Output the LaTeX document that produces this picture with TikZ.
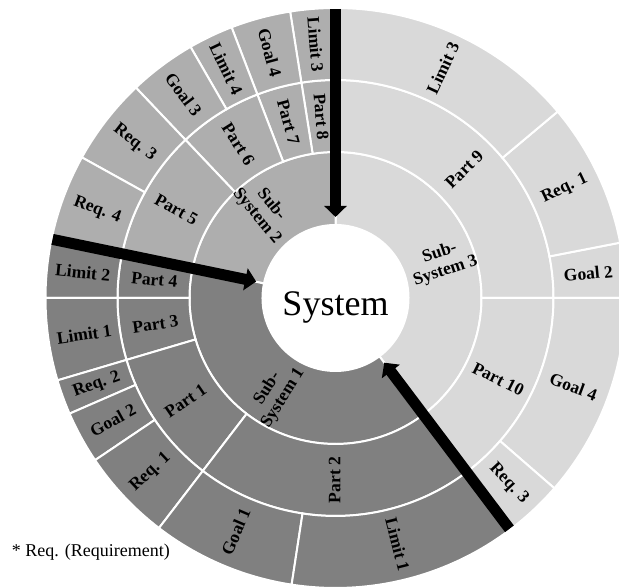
\documentclass[tikz,border=0pt]{standalone}
\usepackage{fontspec}
\setmainfont{Liberation Serif}
\usetikzlibrary{arrows.meta}

\definecolor{ssL}{HTML}{D9D9D9}
\definecolor{ssM}{HTML}{AEAEAE}
\definecolor{ssD}{HTML}{808080}

\tikzset{
  segline/.style={draw=white, line width=2pt},
  lbl/.style={font=\fontsize{17.5}{18.5}\selectfont\bfseries, align=center, inner sep=0pt},
  hub/.style={circle, fill=white, minimum size=146pt, inner sep=0pt, outer sep=0pt},
  hubtext/.style={font=\fontsize{36}{40}\selectfont, inner sep=0pt, anchor=base},
  note/.style={font=\fontsize{18}{20}\selectfont, inner sep=0pt, anchor=base west},
  flow/.style={line width=11pt, -{Triangle[width=22pt,length=11pt]}, shorten >=8pt}
}

% annular sector: colour, start angle, end angle, inner radius, outer radius
\newcommand\ringseg[5]{%
  \filldraw[segline, fill=#1] (#2:#4) arc[start angle=#2, end angle=#3, radius=#4]
    -- (#3:#5) arc[start angle=#3, end angle=#2, radius=#5] -- cycle;}
% sector label: name, angle, radius, rotation, text
\newcommand\seglabel[5]{\node[lbl, rotate=#4] (#1) at (#2:#3) {#5};}

\begin{document}
\begin{tikzpicture}
\useasboundingbox (0,0) rectangle (619pt,588pt);
\clip (0,0) rectangle (619pt,588pt);

\begin{scope}[shift={(335.5pt,290pt)}]
  % ring 1: sub-systems
  \ringseg{ssL}{-53}{90}{73pt}{146pt}
  \ringseg{ssM}{90}{168.5}{73pt}{146pt}
  \ringseg{ssD}{168.5}{307}{73pt}{146pt}

  % ring 2: parts
  \ringseg{ssL}{0}{90}{146pt}{218pt}
  \ringseg{ssL}{-53}{0}{146pt}{218pt}
  \ringseg{ssM}{90}{99}{146pt}{218pt}
  \ringseg{ssM}{99}{111}{146pt}{218pt}
  \ringseg{ssM}{111}{133.5}{146pt}{218pt}
  \ringseg{ssM}{133.5}{168.5}{146pt}{218pt}
  \ringseg{ssD}{168.5}{180}{146pt}{218pt}
  \ringseg{ssD}{180}{196.5}{146pt}{218pt}
  \ringseg{ssD}{196.5}{232.5}{146pt}{218pt}
  \ringseg{ssD}{232.5}{307}{146pt}{218pt}

  % ring 3: requirements, goals, limits
  \ringseg{ssL}{0}{11}{218pt}{290pt}
  \ringseg{ssL}{11}{40}{218pt}{290pt}
  \ringseg{ssL}{40}{90}{218pt}{290pt}
  \ringseg{ssL}{-41}{0}{218pt}{290pt}
  \ringseg{ssL}{-53}{-41}{218pt}{290pt}
  \ringseg{ssM}{90}{99}{218pt}{290pt}
  \ringseg{ssM}{99}{111}{218pt}{290pt}
  \ringseg{ssM}{111}{120}{218pt}{290pt}
  \ringseg{ssM}{120}{133.5}{218pt}{290pt}
  \ringseg{ssM}{133.5}{151}{218pt}{290pt}
  \ringseg{ssM}{151}{168.5}{218pt}{290pt}
  \ringseg{ssD}{168.5}{180}{218pt}{290pt}
  \ringseg{ssD}{180}{196.5}{218pt}{290pt}
  \ringseg{ssD}{196.5}{203.5}{218pt}{290pt}
  \ringseg{ssD}{203.5}{214}{218pt}{290pt}
  \ringseg{ssD}{214}{232.5}{218pt}{290pt}
  \ringseg{ssD}{232.5}{261.3}{218pt}{290pt}
  \ringseg{ssD}{261.3}{307}{218pt}{290pt}

  % labels, ring 1
  \seglabel{ss3}{18.5}{113pt}{18.5}{Sub-\\System 3}
  \seglabel{ss2}{129.25}{113pt}{-50.75}{Sub-\\System 2}
  \seglabel{ss1}{237.75}{113pt}{57.75}{Sub-\\System 1}

  % labels, ring 2
  \seglabel{p9}{45}{182pt}{45}{Part 9}
  \seglabel{p10}{-26.5}{182pt}{-26.5}{Part 10}
  \seglabel{p8}{94.5}{182pt}{-85.5}{Part 8}
  \seglabel{p7}{105}{182pt}{-75}{Part 7}
  \seglabel{p6}{122.25}{182pt}{-57.75}{Part 6}
  \seglabel{p5}{151}{182pt}{-29}{Part 5}
  \seglabel{p4}{174.25}{182pt}{-5.75}{Part 4}
  \seglabel{p3}{188.25}{182pt}{8.25}{Part 3}
  \seglabel{p1}{214.5}{182pt}{34.5}{Part 1}
  \seglabel{p2}{269.75}{182pt}{89.75}{Part 2}

  % labels, ring 3
  \seglabel{goalA}{5.5}{254pt}{5.5}{Goal 2}
  \seglabel{reqA}{25.5}{254pt}{25.5}{Req. 1}
  \seglabel{limA}{65}{254pt}{65}{Limit 3}
  \seglabel{goalB}{-20.5}{254pt}{-20.5}{Goal 4}
  \seglabel{reqB}{-47}{254pt}{-47}{Req. 3}
  \seglabel{limB}{94.5}{254pt}{-85.5}{Limit 3}
  \seglabel{goalC}{105}{254pt}{-75}{Goal 4}
  \seglabel{limC}{115.5}{254pt}{-64.5}{Limit 4}
  \seglabel{goalD}{126.75}{254pt}{-53.25}{Goal 3}
  \seglabel{reqC}{142.25}{254pt}{-37.75}{Req. 3}
  \seglabel{reqD}{159.75}{254pt}{-20.25}{Req. 4}
  \seglabel{limD}{174.25}{254pt}{-5.75}{Limit 2}
  \seglabel{limE}{188.25}{254pt}{8.25}{Limit 1}
  \seglabel{reqE}{200}{254pt}{20}{Req. 2}
  \seglabel{goalE}{208.75}{254pt}{28.75}{Goal 2}
  \seglabel{reqF}{223.25}{254pt}{43.25}{Req. 1}
  \seglabel{goalF}{246.9}{254pt}{66.9}{Goal 1}
  \seglabel{limF}{284.15}{254pt}{-75.85}{Limit 1}

  % hub
  \node[hub] (sys) at (0,0) {};
  \node[hubtext] (systxt) at ([yshift=-18pt]sys.center) {System};

  % arrows into the hub
  \coordinate (inTop) at (90:289pt);
  \coordinate (inLeft) at (168.3:289pt);
  \coordinate (inLow) at (-53:289pt);
  \draw[flow] (inTop) -- (sys);
  \draw[flow] (inLeft) -- (sys);
  \draw[flow] (inLow) -- (sys);
\end{scope}

\node[note] (foot) at (11.7pt,31.3pt) {* Req. (Requirement)};
\end{tikzpicture}
\end{document}
